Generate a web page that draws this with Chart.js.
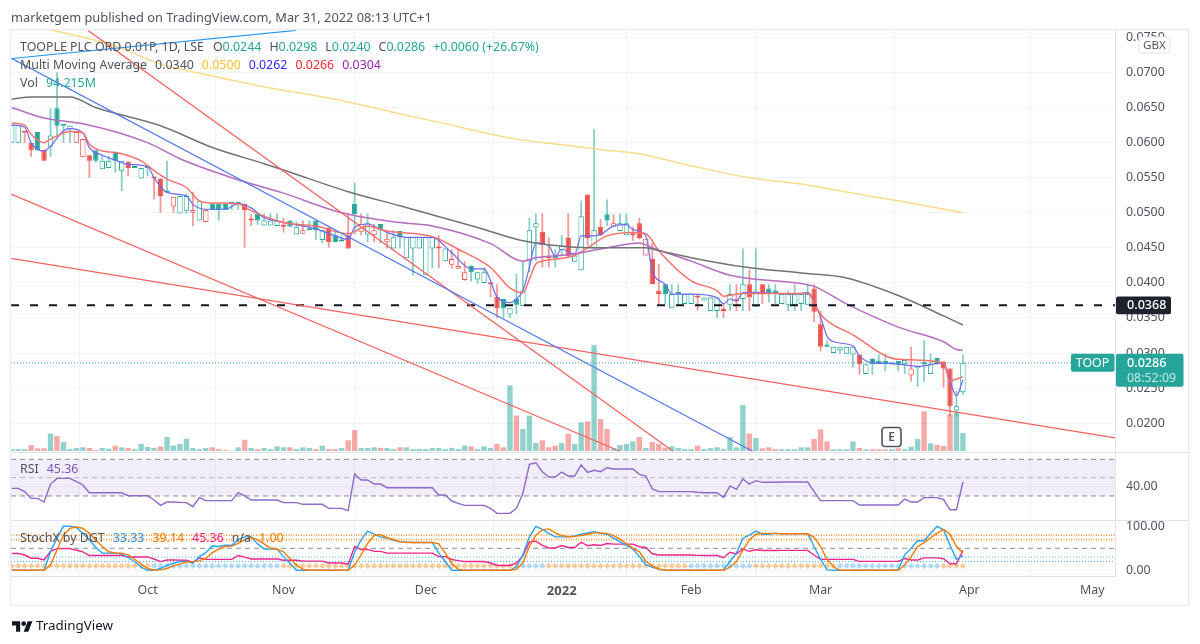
<!DOCTYPE html>
<html><head><meta charset="utf-8">
<script src="https://cdn.jsdelivr.net/npm/chart.js@4"></script>
<style>
html,body{margin:0;padding:0;background:#fff;width:1200px;height:644px;overflow:hidden}
#wrap{position:relative;width:1200px;height:644px;font-family:"Noto Sans",sans-serif;color:#50535e}
canvas{position:absolute;left:0;top:0}
.t{position:absolute;white-space:pre;font-size:12.4px;line-height:18px}
.t span{margin-right:8px}
</style></head><body>
<div id="wrap"><canvas id="c" width="1200" height="644"></canvas>
<div class="t" style="left:11px;top:8px;font-size:12.8px">marketgem published on TradingView.com, Mar 31, 2022 08:13 UTC+1</div>
<div class="t" style="left:20px;top:38px"><span style="margin-right:9px">TOOPLE PLC ORD 0.01P, 1D, LSE</span><span>O<b style="font-weight:400;color:#26a69a">0.0244</b></span><span>H<b style="font-weight:400;color:#26a69a">0.0298</b></span><span>L<b style="font-weight:400;color:#26a69a">0.0240</b></span><span>C<b style="font-weight:400;color:#26a69a">0.0286</b></span><span style="color:#26a69a">+0.0060 (+26.67%)</span></div>
<div class="t" style="left:20px;top:56px"><span>Multi Moving Average</span><span style="color:#50535e">0.0340</span><span style="color:#fbc02d">0.0500</span><span style="color:#2a2eff">0.0262</span><span style="color:#f7252f">0.0266</span><span style="color:#9c27b0">0.0304</span></div>
<div class="t" style="left:20px;top:74px"><span>Vol</span><span style="color:#26a69a">94.215M</span></div>
<div class="t" style="left:20px;top:460px"><span>RSI</span><span style="color:#7e57c2">45.36</span></div>
<div class="t" style="left:20px;top:529px"><span>StochX by DGT</span><span style="color:#2196f3">33.33</span><span style="color:#f57c00">39.14</span><span style="color:#ff1a8c">45.36</span><span>n/a</span><span style="color:#f57c00">1.00</span></div>
<svg style="position:absolute;left:12px;top:620px" width="21" height="12" viewBox="0 0 36 20"><path fill="#131722" d="M14 20H7V9H0V2h14v18zM28 20h-8l7-18h8l-7 18z"/><circle cx="20" cy="6" r="4" fill="#131722"/></svg>
<div class="t" style="left:36px;top:616px;font-size:13.4px;color:#131722">TradingView</div>
</div>
<script>
const categoryIndex=[...Array(148).keys()];
const opens=[.0600,.0600,.0614,.0600,.0615,.0590,.0594,.0649,.0624,.0619,.0600,.0579,.0582,.0589,.0562,.0564,.0587,.0560,.0573,.0564,.0549,.0564,.0549,.0549,.0529,.0509,.0499,.0503,.0500,.0489,.0487,.0513,.0513,.0513,.0513,.0513,.0513,.0489,.0499,.0482,.0482,.0481,.0480,.0489,.0469,.0470,.0475,.0489,.0461,.0479,.0468,.0459,.0468,.0513,.0473,.0469,.0468,.0484,.0458,.0449,.0474,.0435,.0449,.0449,.0411,.0449,.0449,.0431,.0426,.0420,.0404,.0424,.0405,.0400,.0398,.0380,.0377,.0355,.0377,.0367,.0431,.0479,.0473,.0436,.0440,.0447,.0464,.0430,.0418,.0526,.0449,.0480,.0498,.0480,.0474,.0468,.0468,.0485,.0439,.0434,.0389,.0398,.0364,.0384,.0370,.0370,.0382,.0375,.0360,.0360,.0360,.0369,.0374,.0377,.0398,.0366,.0398,.0392,.0389,.0370,.0369,.0369,.0370,.0369,.0392,.0341,.0312,.0300,.0304,.0299,.0298,.0298,.0270,.0292,.0289,.0289,.0284,.0289,.0284,.0268,.0279,.0285,.0270,.0293,.0288,.0278,.0218,.0244];
const highs=[.0625,.0625,.0614,.0600,.0615,.0590,.0649,.0700,.0624,.0624,.0615,.0605,.0582,.0589,.0583,.0581,.0587,.0574,.0573,.0564,.0564,.0564,.0549,.0549,.0574,.0523,.0524,.0528,.0530,.0517,.0504,.0513,.0513,.0513,.0513,.0513,.0513,.0498,.0499,.0499,.0499,.0499,.0493,.0489,.0488,.0489,.0489,.0489,.0475,.0479,.0475,.0468,.0499,.0543,.0499,.0499,.0484,.0484,.0475,.0475,.0474,.0465,.0465,.0465,.0465,.0465,.0468,.0449,.0448,.0448,.0431,.0425,.0415,.0422,.0398,.0398,.0377,.0364,.0413,.0431,.0493,.0499,.0499,.0465,.0448,.0468,.0499,.0443,.0517,.0526,.0619,.0491,.0519,.0498,.0499,.0499,.0480,.0493,.0463,.0457,.0427,.0398,.0398,.0398,.0384,.0384,.0384,.0379,.0379,.0379,.0370,.0398,.0398,.0449,.0419,.0449,.0398,.0398,.0398,.0384,.0389,.0398,.0384,.0399,.0398,.0360,.0318,.0309,.0309,.0309,.0309,.0298,.0284,.0293,.0298,.0299,.0284,.0289,.0290,.0309,.0279,.0318,.0299,.0293,.0288,.0278,.0246,.0298];
const lows=[.0600,.0600,.0600,.0580,.0589,.0574,.0580,.0610,.0600,.0600,.0600,.0579,.0550,.0571,.0562,.0564,.0557,.0531,.0552,.0564,.0549,.0552,.0519,.0500,.0529,.0500,.0499,.0499,.0481,.0489,.0487,.0504,.0489,.0504,.0504,.0504,.0450,.0481,.0483,.0482,.0482,.0481,.0472,.0480,.0469,.0470,.0475,.0461,.0456,.0450,.0458,.0459,.0449,.0469,.0468,.0458,.0458,.0456,.0449,.0449,.0449,.0435,.0411,.0449,.0411,.0421,.0421,.0431,.0420,.0420,.0403,.0402,.0399,.0400,.0379,.0350,.0350,.0350,.0355,.0367,.0415,.0431,.0422,.0422,.0422,.0438,.0438,.0430,.0418,.0453,.0449,.0467,.0481,.0480,.0474,.0468,.0460,.0462,.0439,.0398,.0370,.0370,.0364,.0370,.0370,.0370,.0361,.0375,.0360,.0350,.0350,.0360,.0360,.0360,.0360,.0366,.0370,.0372,.0370,.0370,.0360,.0360,.0360,.0369,.0344,.0302,.0309,.0300,.0299,.0299,.0279,.0269,.0270,.0269,.0284,.0274,.0284,.0274,.0270,.0259,.0252,.0259,.0270,.0284,.0251,.0210,.0210,.0240];
const closes=[.0625,.0625,.0614,.0589,.0589,.0574,.0610,.0624,.0624,.0624,.0615,.0605,.0574,.0574,.0574,.0574,.0574,.0574,.0564,.0564,.0564,.0564,.0549,.0524,.0529,.0523,.0524,.0524,.0504,.0517,.0504,.0504,.0504,.0504,.0513,.0513,.0504,.0489,.0489,.0489,.0489,.0489,.0480,.0480,.0480,.0475,.0475,.0475,.0475,.0458,.0458,.0459,.0449,.0498,.0484,.0485,.0475,.0475,.0463,.0465,.0465,.0465,.0465,.0465,.0465,.0465,.0449,.0449,.0434,.0424,.0415,.0415,.0415,.0415,.0398,.0364,.0364,.0364,.0369,.0389,.0475,.0485,.0454,.0435,.0435,.0453,.0438,.0439,.0495,.0464,.0475,.0468,.0489,.0485,.0485,.0485,.0468,.0464,.0463,.0398,.0384,.0384,.0384,.0384,.0384,.0384,.0379,.0379,.0379,.0379,.0360,.0384,.0374,.0398,.0379,.0389,.0384,.0384,.0384,.0384,.0384,.0384,.0384,.0384,.0359,.0309,.0309,.0309,.0309,.0309,.0309,.0284,.0284,.0284,.0284,.0284,.0284,.0284,.0290,.0278,.0279,.0284,.0284,.0284,.0278,.0224,.0224,.0286];
const volumesM=[10,10,10,31,14,14,91,78,47,10,16,19,16,5,16,12,28,19,16,10,37,21,16,24,73,28,37,64,16,10,16,19,10,5,2,19,59,16,10,16,10,24,19,19,10,19,16,10,28,10,10,16,56,110,16,16,19,16,16,10,19,19,10,10,10,16,16,10,16,10,28,24,10,24,16,37,19,343,186,115,185,42,56,19,28,42,91,37,150,155,554,167,115,14,31,37,50,73,16,47,37,16,24,16,10,10,28,10,16,19,10,73,19,240,91,68,14,19,10,9,9,9,19,19,63,113,50,9,9,9,50,16,9,9,9,9,9,14,9,23,63,207,40,31,26,193,200,94.215];
const rsiValues=[38.3,38.3,34.7,27.4,27.4,23.4,43,49.2,49.2,49.2,45.6,42,33.6,33.6,33.6,33.6,33.6,33.6,30.3,30.3,30.3,30.3,25.6,19.8,23.4,23.4,23,22.7,18.3,28.2,24.9,24.9,24.9,24.9,24.9,33.6,30,25.6,25.6,25.6,25.6,25.6,22.7,22.7,22.7,20.9,20.9,20.9,20.9,16.5,16.5,16.5,14,54,47.4,47.4,43,43,39,39,39,39,39,39,39,39,31,31,24.5,22,19.8,19.8,19.8,19.8,16.5,11,11,11,16.5,32.9,64.5,66.3,56.5,50.7,50.7,56.1,51.8,51.8,63.8,55.8,58,56.5,60.8,59.4,59.4,59.4,59.4,53.6,51.8,37.6,34.7,34.7,34.7,34.7,34.7,34.7,34,33.6,33.6,33.6,28.5,40.9,37.2,48.5,43,46.7,44.9,44.9,44.9,45.2,45.2,45.2,45.2,45.2,34.7,24.9,24.9,24.9,24.9,24.9,24.9,20.2,20.2,20.2,20.2,20.2,20.2,20.2,26.7,23.4,23.4,28.2,28.2,28.2,26.3,15,15,45.36];
const stochK=[0,0,0,0,0,0,42,73,100,100,97,84,69,52,39,39,39,37,29,20,7,0,0,4,11,16,20,20,16,31,40,55,54,57,57,69,76,76,60,48,48,48,31,16,0,0,0,0,0,0,0,0,0,42,69,89,82,76,73,68,65,64,63,63,63,63,39,20,0,0,0,0,0,0,0,0,0,0,8,35,76,100,93,84,76,76,76,78,82,85,88,84,82,73,65,56,48,31,12,7,2,0,0,0,0,0,0,0,0,0,1,20,39,73,80,89,82,82,84,83,83,83,83,83,54,25,1,0,0,0,0,0,0,0,0,0,0,1,35,50,67,67,84,100,92,57,25,33.33];
const stochD=[0,0,0,0,0,0,12,46,80,95,99,95,84,69,54,42,39,39,35,25,14,4,0,1,4,10,14,19,19,22,27,40,48,54,55,61,69,75,69,60,50,48,42,27,12,2,0,0,0,0,0,0,0,12,35,61,79,81,74,70,65,63,63,63,63,63,60,39,16,2,0,0,0,0,0,0,0,0,2,17,54,80,92,94,85,79,76,77,79,82,85,85,84,79,71,60,50,42,20,10,3,0,0,0,0,0,0,0,0,0,0,7,20,46,69,82,84,84,84,83,83,83,83,83,75,54,25,8,0,0,0,0,0,0,0,0,0,0,12,31,54,63,74,84,93,82,54,39.14];
const blueDotRanges=[[22,41],[79,82],[105,114],[128,143]];
const maGrayX=[0,3,9,13,23,31,39,42,52,60,72,79,87,93,98,100,105,113,122,129,137,144,147];
const maGrayY=[.0662,.0665,.0665,.0650,.0624,.0593,.0570,.0561,.0530,.0510,.0479,.0460,.0451,.0450,.0450,.0446,.0436,.0423,.0414,.0407,.0382,.0353,.0340];
const maYellowX=[6,16,23,31,40,50,60,65,78,85,91,97,105,114,122,130,137,147];
const maYellowY=[.0761,.0738,.0712,.0695,.0678,.0662,.0641,.0631,.0605,.0597,.0590,.0584,.0567,.0550,.0541,.0528,.0517,.0500];
const maPurpleX=[0,5,7,11,21,26,34,42,51,60,65,74,79,81,86,92,97,99,105,111,122,124,129,137,144,146,147];
const maPurpleY=[.0650,.0635,.0632,.0627,.0600,.0577,.0550,.0528,.0500,.0486,.0481,.0456,.0431,.0436,.0440,.0450,.0457,.0450,.0431,.0411,.0399,.0395,.0370,.0337,.0316,.0305,.0304];
const maRedX=[0,2,3,5,6,9,11,12,14,16,20,22,24,27,29,31,35,37,42,47,52,55,58,65,69,74,77,79,80,81,82,87,89,92,96,98,100,105,109,110,113,122,123,125,130,137,144,145,146,147];
const maRedY=[.0628,.0625,.0612,.0600,.0605,.0616,.0614,.0598,.0588,.0586,.0574,.0560,.0548,.0536,.0517,.0514,.0513,.0503,.0486,.0481,.0470,.0481,.0474,.0466,.0448,.0422,.0393,.0386,.0405,.0427,.0431,.0439,.0450,.0467,.0472,.0470,.0446,.0403,.0389,.0381,.0385,.0385,.0385,.0355,.0326,.0291,.0286,.0260,.0263,.0266];
const maBlueX=[0,2,3,5,6,8,9,11,12,14,16,18,21,22,24,27,28,30,33,35,37,39,41,47,50,52,53,55,58,61,65,68,71,73,75,77,78,79,80,81,83,84,85,87,88,90,91,93,95,96,98,99,101,102,105,109,110,111,112,113,115,121,123,125,126,127,130,131,133,136,140,144,145,146,147];
const maBlueY=[.0625,.0622,.0600,.0588,.0595,.0617,.0620,.0614,.0593,.0582,.0575,.0569,.0566,.0550,.0529,.0524,.0512,.0505,.0505,.0513,.0507,.0493,.0488,.0477,.0467,.0462,.0479,.0484,.0472,.0465,.0465,.0443,.0420,.0420,.0380,.0372,.0377,.0389,.0422,.0457,.0453,.0438,.0448,.0441,.0467,.0467,.0469,.0481,.0483,.0476,.0467,.0417,.0398,.0384,.0384,.0379,.0370,.0377,.0374,.0386,.0386,.0384,.0386,.0351,.0324,.0316,.0310,.0296,.0286,.0285,.0281,.0286,.0260,.0239,.0262];
const trendLightBlueX=[0.05,43.9],trendLightBlueY=[.0720,.0760];
const trendBlueX=[-0.1,114.5],trendBlueY=[.07205,.0160];
const trendRed1X=[11.8,102.2],trendRed1Y=[.0760,.0160];
const trendRed2X=[-0.1,94],trendRed2Y=[.05266,.0160];
const trendRed3X=[-0.1,170.5],trendRed3Y=[.0435,.0179];
const supportLevel=0.0368,lastPrice=0.0286;
const priceTicks=[.02,.025,.03,.035,.04,.045,.05,.055,.06,.065,.07,.075];
const rsiTicks=[40],stochTicks=[0,100];
const monthIndex=[21,42,64,85,105,125,148,167];
const monthLabels=['Oct','Nov','Dec','2022','Feb','Mar','Apr','May'];

const UP='#26a69a',DN='#ef5350',UPW='rgba(38,166,154,.55)',DNW='rgba(239,83,80,.6)';
const isUp=i=>i===0||closes[i]>=closes[i-1];
const XMIN=-0.108,XMAX=170.5;
const pts=(xs,ys)=>xs.map((x,i)=>({x,y:ys[i]}));
const series=a=>a.map((y,x)=>({x,y}));
const level=v=>[{x:XMIN,y:v},{x:XMAX,y:v}];
const lineDs=(data,color,w,yAxisID,order,extra)=>Object.assign({type:'line',data,borderColor:color,borderWidth:w,pointRadius:0,yAxisID,order,tension:0},extra||{});
const smooth={cubicInterpolationMode:'monotone'};
const isBlueDot=i=>blueDotRanges.some(r=>i>=r[0]&&i<=r[1]);
const font={family:'"Noto Sans",sans-serif',size:12.4};

const datasets=[
 lineDs(pts(trendLightBlueX,trendLightBlueY),'#2196f3',1.2,'y',0),
 lineDs(pts(trendBlueX,trendBlueY),'#4f78f2',1.2,'y',0),
 lineDs(pts(trendRed1X,trendRed1Y),'#f7605c',1.2,'y',0),
 lineDs(pts(trendRed2X,trendRed2Y),'#f7605c',1.2,'y',0),
 lineDs(pts(trendRed3X,trendRed3Y),'#f7605c',1.2,'y',0),
 lineDs(level(supportLevel),'#131722',2,'y',1,{borderDash:[8,11]}),
 lineDs(level(lastPrice),'#26a69a',1,'y',9,{borderDash:[1,2]}),
 lineDs(pts(maGrayX,maGrayY),'#737373',1.5,'y',2,smooth),
 lineDs(pts(maYellowX,maYellowY),'#fcdc8b',1.5,'y',2,smooth),
 lineDs(pts(maPurpleX,maPurpleY),'#b76cc4',1.5,'y',2,smooth),
 lineDs(pts(maRedX,maRedY),'#f8716d',1.5,'y',3,smooth),
 lineDs(pts(maBlueX,maBlueY),'#6b6cf7',1.2,'y',3,smooth),
 {type:'bar',label:'body',grouped:false,yAxisID:'y',order:10,barThickness:5.4,borderWidth:1,borderSkipped:false,inflateAmount:0,minBarLength:2,
  data:categoryIndex.map(i=>({x:i,y:[opens[i],closes[i]]})),
  borderColor:categoryIndex.map(i=>isUp(i)?UP:DN),
  backgroundColor:categoryIndex.map(i=>closes[i]>opens[i]?'#ffffff':(isUp(i)?UP:DN))},
 {type:'bar',label:'wick',grouped:false,yAxisID:'y',order:11,barThickness:1.8,borderWidth:0,inflateAmount:0,
  data:categoryIndex.map(i=>({x:i,y:[lows[i],highs[i]]})),
  backgroundColor:categoryIndex.map(i=>isUp(i)?UPW:DNW)},
 {type:'bar',label:'volume',grouped:false,yAxisID:'yV',order:30,barThickness:5.4,borderWidth:0,inflateAmount:0,
  data:categoryIndex.map(i=>({x:i,y:volumesM[i]})),
  backgroundColor:categoryIndex.map(i=>closes[i]>=opens[i]?'rgba(38,166,154,.5)':'rgba(239,83,80,.5)')},
 lineDs(level(70),'#8a8d96',1,'yR',6,{borderDash:[5,4],fill:{value:30},backgroundColor:'rgba(126,87,194,.1)'}),
 lineDs(level(50),'rgba(135,138,148,.55)',1,'yR',6,{borderDash:[5,4]}),
 lineDs(level(30),'#8a8d96',1,'yR',6,{borderDash:[5,4]}),
 lineDs(series(rsiValues),'#8e68cc',1.4,'yR',5),
 lineDs(level(50),'#8a8d96',1,'yS',6,{borderDash:[5,4]}),
 lineDs(level(80),'rgba(245,124,0,.7)',1.8,'yS',6,{borderDash:[1,1.5]}),
 lineDs(level(70),'rgba(245,124,0,.7)',1.8,'yS',6,{borderDash:[1,1.5]}),
 lineDs(level(30),'rgba(33,150,243,.8)',1,'yS',6,{borderDash:[1,2]}),
 lineDs(level(20),'rgba(33,150,243,.8)',1,'yS',6,{borderDash:[1,2]}),
 {type:'line',showLine:false,yAxisID:'yS',order:7,pointStyle:'rectRot',pointRadius:3.2,pointBorderWidth:0,
  data:categoryIndex.map(i=>({x:i,y:10})),
  pointBackgroundColor:categoryIndex.map(i=>isBlueDot(i)?'rgba(33,150,243,.36)':'rgba(245,124,0,.4)')},
 lineDs(series(rsiValues),'#f0268c',1.4,'yS',4),
 lineDs(series(stochK),'#2aa4f4',1.4,'yS',3),
 lineDs(series(stochD),'#f57c00',1.4,'yS',2)
];

function tag(ctx,x,y,w,h,color){ctx.fillStyle=color;ctx.beginPath();ctx.roundRect(x,y,w,h,2);ctx.fill();}
const overlay={id:'overlay',
 afterDraw(c){
  const ctx=c.ctx,ys=c.scales.y,yr=c.scales.yR;
  ctx.save();
  ctx.strokeStyle='#e9ecf3';ctx.lineWidth=1.5;
  ctx.strokeRect(10.5,29.5,1178,576);
  ctx.strokeStyle='#e0e3eb';ctx.lineWidth=1;
  [ys.bottom,yr.bottom].forEach(v=>{ctx.beginPath();ctx.moveTo(11,Math.round(v)+.5);ctx.lineTo(1188,Math.round(v)+.5);ctx.stroke();});
  ctx.fillStyle='#fff';ctx.strokeStyle='#e0e3eb';ctx.beginPath();ctx.roundRect(1139,37,31,16,2);ctx.fill();ctx.stroke();
  ctx.fillStyle='#50535e';ctx.font='11.6px "Noto Sans",sans-serif';ctx.textAlign='center';ctx.textBaseline='middle';
  ctx.fillText('GBX',1154.5,45.5);
  const yS=ys.getPixelForValue(supportLevel),yL=ys.getPixelForValue(lastPrice);
  tag(ctx,1116,yS-8.8,55,17.6,'#1e222d');
  ctx.fillStyle='#fff';ctx.textAlign='left';ctx.font='500 12.6px "Noto Sans",sans-serif';ctx.fillText(supportLevel.toFixed(4),1127,yS+.5);
  tag(ctx,1071,yL-9,43.5,18,'#26a69a');
  tag(ctx,1116,yL-9,67.5,33,'#26a69a');
  ctx.fillStyle='#fff';ctx.textAlign='center';ctx.font='12.4px "Noto Sans",sans-serif';ctx.fillText('TOOP',1092.5,yL+.5);
  ctx.textAlign='left';ctx.font='500 12.6px "Noto Sans",sans-serif';ctx.fillText(lastPrice.toFixed(4),1127,yL+.5);
  ctx.fillStyle='rgba(255,255,255,.72)';ctx.font='12.4px "Noto Sans",sans-serif';ctx.fillText('08:52:09',1127,yL+16);
  ctx.fillStyle='#fff';ctx.strokeStyle='#50535e';ctx.lineWidth=1.6;ctx.beginPath();ctx.roundRect(882,427.5,19,19,3);ctx.fill();ctx.stroke();
  ctx.fillStyle='#50535e';ctx.textAlign='center';ctx.font='600 12px "Noto Sans",sans-serif';ctx.fillText('E',891.5,437.5);
  ctx.restore();
 }};

const setTicks=v=>s=>{s.ticks=v.map(value=>({value}));};
const rightAxis=(min,max,weight,ticks,fmt,order)=>({type:'linear',position:'right',stack:'panes',stackWeight:weight,weight:order,min,max,
  afterBuildTicks:setTicks(ticks),afterFit(s){s.width=73;},
  border:{color:'#e0e3eb',display:true},
  grid:{color:'#f0f3fa',drawTicks:false,lineWidth:1},
  ticks:{autoSkip:false,padding:11,color:'#50535e',font,callback:fmt,align:'center'}});

new Chart(document.getElementById('c'),{
 type:'bar',
 data:{datasets},
 plugins:[overlay],
 options:{responsive:false,animation:false,
  layout:{padding:{left:11,top:30,right:12,bottom:39}},
  plugins:{legend:{display:false},tooltip:{enabled:false},title:{display:false}},
  scales:{
   x:{type:'linear',min:XMIN,max:XMAX,offset:false,
     afterBuildTicks:setTicks(monthIndex),afterFit(s){s.height=29;},
     border:{color:'#e0e3eb'},grid:{color:'#f0f3fa',drawTicks:false},
     ticks:{autoSkip:false,maxRotation:0,padding:7,color:'#50535e',
       font:ctx=>ctx.index===3?{family:font.family,size:13,weight:'bold'}:font,
       callback:(v)=>monthLabels[monthIndex.indexOf(v)]}},
   y:rightAxis(0.01593,0.07606,421.7,priceTicks,v=>v.toFixed(4),1),
   yR:rightAxis(3.8,78.3,68.3,rsiTicks,v=>v.toFixed(2),2),
   yS:rightAxis(-13,114.3,56,stochTicks,v=>v.toFixed(2),3),
   yV:{type:'linear',display:false,position:'left',min:-654,max:2202}
  }}
});
</script></body></html>
